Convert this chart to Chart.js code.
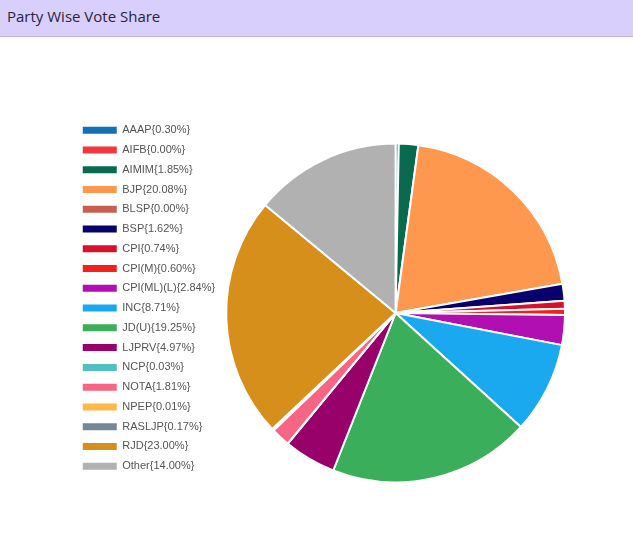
<!DOCTYPE html>
<html>
<head>
<meta charset="utf-8">
<script src="https://cdn.jsdelivr.net/npm/chart.js@4"></script>
<style>
  html, body { margin: 0; padding: 0; background: #fff; width: 633px; height: 541px; overflow: hidden; }
  #hdr { position: absolute; left: 0; top: 0; width: 633px; height: 37px; background: #d8cffd; border-bottom: 1px solid #bdb3cf; box-sizing: border-box; }
  #hdr span { position: absolute; left: 7px; top: 0; line-height: 33px; font-family: "Open Sans", sans-serif; font-size: 15px; color: #2a2340; }
  #wrap { position: absolute; left: 74px; top: 116px; width: 492px; height: 394px; }
</style>
</head>
<body>
<div id="hdr"><span>Party Wise Vote Share</span></div>
<div id="wrap"><canvas id="c"></canvas></div>
<script>
const parties = ["AAAP","AIFB","AIMIM","BJP","BLSP","BSP","CPI","CPI(M)","CPI(ML)(L)","INC","JD(U)","LJPRV","NCP","NOTA","NPEP","RASLJP","RJD","Other"];
const voteShare = [0.30,0.00,1.85,20.08,0.00,1.62,0.74,0.60,2.84,8.71,19.25,4.97,0.03,1.81,0.01,0.17,23.00,14.00];
const partyColors = ["#1170b6","#f2373c","#0a6a4f","#ff984f","#c65f50","#07006d","#d8102b","#f3211b","#b20fb3","#1aa9ef","#3aae5a","#98006a","#52bfc0","#f76584","#ffb74a","#77879a","#d68f1b","#b1b1b1"];
const legendLabels = parties.map((p, i) => p + "{" + voteShare[i].toFixed(2) + "%}");

new Chart(document.getElementById("c"), {
  type: "pie",
  data: {
    labels: legendLabels,
    datasets: [{
      data: voteShare,
      backgroundColor: partyColors,
      borderColor: "#ffffff",
      borderWidth: 2
    }]
  },
  options: {
    responsive: true,
    maintainAspectRatio: false,
    animation: false,
    layout: { padding: 0 },
    plugins: {
      tooltip: { enabled: false },
      legend: {
        position: "left",
        align: "start",
        labels: {
          boxWidth: 34,
          boxHeight: 7,
          padding: 8.76,
          color: "#555555",
          font: { family: "'Liberation Sans', Arial, sans-serif", size: 11 },
          generateLabels: (chart) => {
            const items = Chart.overrides.pie.plugins.legend.labels.generateLabels(chart);
            items.forEach(it => { it.lineWidth = 0; it.strokeStyle = it.fillStyle; });
            return items;
          }
        }
      }
    }
  }
});
</script>
</body>
</html>
